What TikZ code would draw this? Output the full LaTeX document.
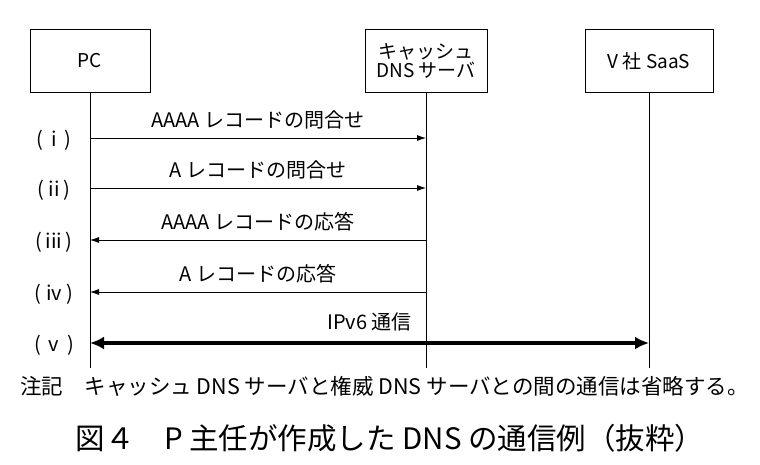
\documentclass[tikz,border=0pt]{standalone}
\usepackage{fontspec}
\setmainfont{Noto Sans CJK JP}
\usetikzlibrary{arrows.meta}
\begin{document}
\begin{tikzpicture}[x=1pt,y=-1pt,
  box/.style={draw,line width=0.8pt,minimum width=120pt,minimum height=63pt,font=\fontsize{19}{21}\selectfont,align=center,inner sep=0pt},
  life/.style={line width=0.8pt},
  msg/.style={line width=0.8pt,-{Latex[length=9pt,width=6pt]}},
  lab/.style={font=\fontsize{20}{22}\selectfont,anchor=base},
  num/.style={font=\fontsize{20}{22}\selectfont}]
\useasboundingbox (0,0) rectangle (760,464);
\node[box] (pc) at (90,61) {PC};
\node[box,minimum width=122pt] (dns) at (426,61) {キャッシュ\\[-2pt]DNS サーバ};
\node[box,minimum width=128pt] (v) at (649,61) {V 社 SaaS};
\coordinate (pce) at (90,368);
\coordinate (dnse) at (426,368);
\coordinate (ve) at (649,368);
\draw[life] (pc) -- (pce);
\draw[life] (dns) -- (dnse);
\draw[life] (v) -- (ve);
\foreach \n/\y in {1/138,2/188,3/240,4/292,5/343}{
  \coordinate (p\n) at (90,\y); \coordinate (d\n) at (426,\y); \coordinate (v\n) at (649,\y);}
\draw[msg] (p1) -- node[lab,above=5pt] {AAAA レコードの問合せ} (d1);
\draw[msg] (p2) -- node[lab,above=5pt] {A レコードの問合せ} (d2);
\draw[msg] (d3) -- node[lab,above=5pt] {AAAA レコードの応答} (p3);
\draw[msg] (d4) -- node[lab,above=5pt] {A レコードの応答} (p4);
\draw[line width=4pt,{Latex[length=14pt,width=13pt]}-{Latex[length=14pt,width=13pt]}] (p5) -- node[lab,above=7pt] {IPv6 通信} (v5);
\node[num] (n1) at (54,140) {(\ \,i\ \,)};
\node[num] (n2) at (54,190) {(\ ii\ )};
\node[num] (n3) at (54,242) {(\,iii\,)};
\node[num] (n4) at (54,294) {(\ iv\ )};
\node[num] (n5) at (54,345) {(\ \,v\ \,)};
\node[font=\fontsize{21.5}{23}\selectfont,anchor=west,inner sep=0pt] (note) at (20,386) {注記\quad キャッシュ DNS サーバと権威 DNS サーバとの間の通信は省略する。};
\node[font=\fontsize{29.5}{32}\selectfont] (cap) at (390,438) {図４\quad P 主任が作成した DNS の通信例（抜粋）};
\end{tikzpicture}
\end{document}
